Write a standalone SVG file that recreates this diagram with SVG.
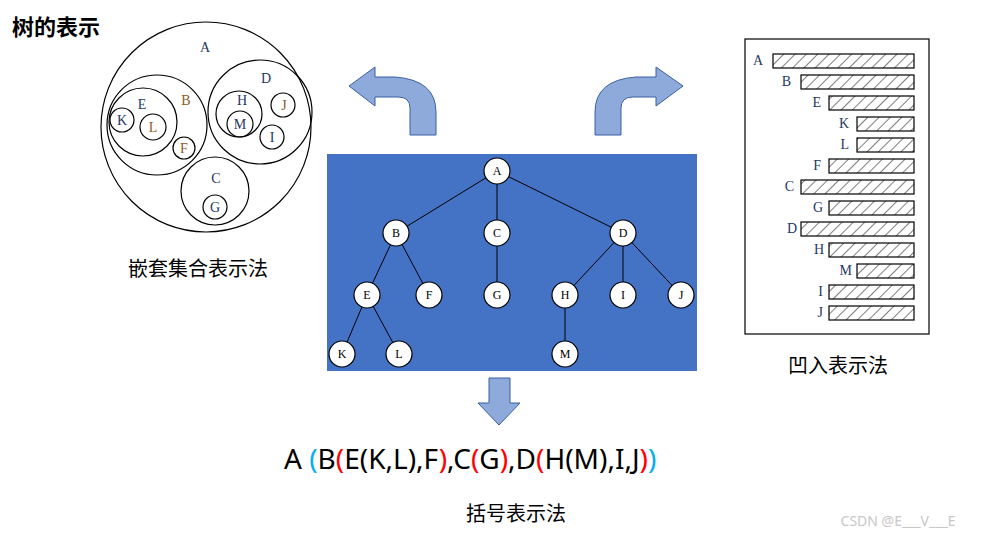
<svg xmlns="http://www.w3.org/2000/svg" width="982" height="537" viewBox="0 0 982 537">
<style>
.c{fill:none;stroke:#000;stroke-width:1.2}
.n{fill:#fff;stroke:#000;stroke-width:1.2}
.t{font-family:"Liberation Serif",serif;font-size:14px;text-anchor:middle;fill:#1f3864}
.o{fill:#8c5a1e}
.bar{fill:url(#h);stroke:#000;stroke-width:1.2}
.l{font-family:"Liberation Serif",serif;font-size:14px;text-anchor:end;fill:#1f3864}
.cap{font-family:"Noto Sans CJK SC","Noto Sans",sans-serif;font-size:20px;text-anchor:middle;fill:#000}
.arr{fill:#8eaadb;stroke:#3a5fa0;stroke-width:1}
.e{stroke:#000;stroke-width:1}
</style>
<defs>
<pattern id="h" width="8" height="8" patternUnits="userSpaceOnUse" patternTransform="rotate(45)">
<rect width="8" height="8" fill="#fff"/><line x1="0" y1="0" x2="0" y2="8" stroke="#000" stroke-width="1"/>
</pattern>
</defs>
<rect width="982" height="537" fill="#fff"/>
<text x="12" y="35" font-family="Noto Sans CJK SC,sans-serif" font-size="22" font-weight="bold">树的表示</text>

<g id="nested">
<circle class="c" cx="206" cy="127" r="105"/>
<circle class="c" cx="157" cy="125" r="50"/>
<circle class="c" cx="143" cy="122" r="34"/>
<circle class="c" cx="122" cy="120" r="12"/>
<circle class="c" cx="153" cy="127" r="13"/>
<circle class="c" cx="184" cy="148" r="11"/>
<circle class="c" cx="260" cy="112" r="52"/>
<circle class="c" cx="239" cy="114" r="23"/>
<circle class="c" cx="240" cy="124" r="13"/>
<circle class="c" cx="283" cy="105" r="12"/>
<circle class="c" cx="272" cy="137" r="12"/>
<circle class="c" cx="215" cy="191" r="34"/>
<circle class="c" cx="215" cy="207" r="12"/>
<text class="t" x="205" y="52">A</text>
<text class="t o" x="186" y="105">B</text>
<text class="t" x="142" y="109">E</text>
<text class="t" x="122" y="125">K</text>
<text class="t o" x="153" y="132">L</text>
<text class="t o" x="184" y="153">F</text>
<text class="t" x="266" y="83">D</text>
<text class="t" x="242" y="105">H</text>
<text class="t" x="240" y="129">M</text>
<text class="t o" x="284" y="110">J</text>
<text class="t" x="272" y="142">I</text>
<text class="t" x="216" y="183">C</text>
<text class="t" x="215" y="212">G</text>
<text class="cap" x="198" y="276">嵌套集合表示法</text>
</g>

<g id="arrows">
<path class="arr" d="M349,86 L375,67 L375,77 L395,77 Q436,80 436,112 L436,135 L410,135 L410,108 Q410,97 398,97 L375,97 L375,106 Z"/>
<path class="arr" d="M683,86 L656,67 L656,77 L636,77 Q595,80 595,112 L595,135 L621,135 L621,108 Q621,97 633,97 L656,97 L656,106 Z"/>
<path class="arr" d="M489,378 L510,378 L510,403 L520,403 L499,425 L478,403 L489,403 Z"/>
</g>

<g id="tree">
<rect x="327" y="154" width="370" height="217" fill="#4472c4"/>
<g class="e">
<line x1="497" y1="171" x2="396" y2="233"/><line x1="497" y1="171" x2="497" y2="233"/><line x1="497" y1="171" x2="623" y2="233"/>
<line x1="396" y1="233" x2="367" y2="295"/><line x1="396" y1="233" x2="429" y2="295"/>
<line x1="497" y1="233" x2="497" y2="295"/>
<line x1="623" y1="233" x2="565" y2="295"/><line x1="623" y1="233" x2="623" y2="295"/><line x1="623" y1="233" x2="681" y2="295"/>
<line x1="367" y1="295" x2="342" y2="354"/><line x1="367" y1="295" x2="399" y2="354"/>
<line x1="565" y1="295" x2="565" y2="354"/>
</g>
<g font-family="Liberation Serif,serif" font-size="12" text-anchor="middle">
<circle class="n" cx="497" cy="171" r="13"/><text x="497" y="175">A</text>
<circle class="n" cx="396" cy="233" r="13"/><text x="396" y="237">B</text>
<circle class="n" cx="497" cy="233" r="13"/><text x="497" y="237">C</text>
<circle class="n" cx="623" cy="233" r="13"/><text x="623" y="237">D</text>
<circle class="n" cx="367" cy="295" r="13"/><text x="367" y="299">E</text>
<circle class="n" cx="429" cy="295" r="13"/><text x="429" y="299">F</text>
<circle class="n" cx="497" cy="295" r="13"/><text x="497" y="299">G</text>
<circle class="n" cx="565" cy="295" r="13"/><text x="565" y="299">H</text>
<circle class="n" cx="623" cy="295" r="13"/><text x="623" y="299">I</text>
<circle class="n" cx="681" cy="295" r="13"/><text x="681" y="299">J</text>
<circle class="n" cx="342" cy="354" r="13"/><text x="342" y="358">K</text>
<circle class="n" cx="399" cy="354" r="13"/><text x="399" y="358">L</text>
<circle class="n" cx="565" cy="354" r="13"/><text x="565" y="358">M</text>
</g>
</g>

<g id="indent">
<rect x="745" y="39" width="184" height="295" fill="none" stroke="#000" stroke-width="1.2"/>
<rect class="bar" x="773" y="54" width="141" height="14"/><text class="l" x="763" y="65">A</text>
<rect class="bar" x="801" y="75" width="113" height="14"/><text class="l o" x="791" y="86">B</text>
<rect class="bar" x="829" y="96" width="85" height="14"/><text class="l" x="821" y="107">E</text>
<rect class="bar" x="857" y="117" width="57" height="14"/><text class="l" x="849" y="128">K</text>
<rect class="bar" x="857" y="138" width="57" height="14"/><text class="l" x="849" y="149">L</text>
<rect class="bar" x="829" y="159" width="85" height="14"/><text class="l o" x="821" y="170">F</text>
<rect class="bar" x="801" y="180" width="113" height="14"/><text class="l" x="794" y="191">C</text>
<rect class="bar" x="829" y="201" width="85" height="14"/><text class="l" x="823" y="212">G</text>
<rect class="bar" x="801" y="222" width="113" height="14"/><text class="l" x="797" y="233">D</text>
<rect class="bar" x="829" y="243" width="85" height="14"/><text class="l o" x="824" y="254">H</text>
<rect class="bar" x="857" y="264" width="57" height="14"/><text class="l" x="852" y="275">M</text>
<rect class="bar" x="829" y="285" width="85" height="14"/><text class="l" x="823" y="296" fill="#7030a0">I</text>
<rect class="bar" x="829" y="306" width="85" height="14"/><text class="l" x="823" y="317">J</text>
<text class="cap" x="838" y="373">凹入表示法</text>
</g>

<g id="bracket">
<text x="284" y="469" font-family="Noto Sans,Liberation Sans,sans-serif" font-size="28" fill="#000">A <tspan fill="#00b0f0">(</tspan>B<tspan fill="#ff0000">(</tspan>E(K,L),F<tspan fill="#ff0000">)</tspan>,C<tspan fill="#ff0000">(</tspan>G<tspan fill="#ff0000">)</tspan>,D<tspan fill="#ff0000">(</tspan>H(M),I,J<tspan fill="#ff0000">)</tspan><tspan fill="#00b0f0">)</tspan></text>
<text class="cap" x="516" y="521">括号表示法</text>
</g>
<text x="898" y="526" font-family="Noto Sans,sans-serif" font-size="14" fill="#c8c8c8" text-anchor="middle">CSDN @E___V___E</text>
</svg>
